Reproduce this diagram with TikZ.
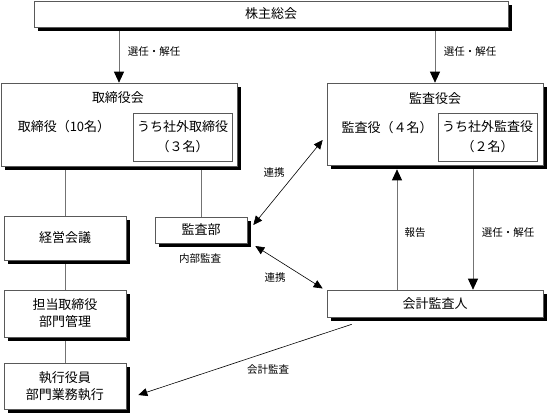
\documentclass[tikz,border=0pt]{standalone}
\usepackage{fontspec}
\setmainfont{Noto Sans CJK JP}
\usetikzlibrary{arrows.meta,shadows,backgrounds}
\begin{document}
\begin{tikzpicture}[x=1pt,y=-1pt,
        box/.style = {draw=black!65, line width=0.6pt, fill=white, inner sep=0pt,
            align=center, font=\fontsize{13}{17}\selectfont,
            drop shadow={shadow xshift=3.5pt, shadow yshift=-3.5pt, opacity=1, fill=black}},
        inbox/.style = {draw=black!65, line width=0.6pt, fill=white, inner sep=0pt,
            align=center, font=\fontsize{13}{20}\selectfont},
        txt/.style = {inner sep=0pt, font=\fontsize{13}{17}\selectfont},
        lbl/.style = {inner sep=0pt, font=\fontsize{10.5}{12}\selectfont},
        link/.style = {draw=black!55, line width=0.7pt},
        down/.style = {link, -{Triangle[width=10pt,length=11pt,color=black]}},
        single/.style = {black, line width=0.6pt, -{Triangle[width=8pt,length=9pt]}},
        both/.style = {black, line width=0.6pt, {Triangle[width=8pt,length=9pt]}-{Triangle[width=8pt,length=9pt]}}
        ]
    \useasboundingbox (0,0) rectangle (547,416);
    \node[box, minimum width=474pt, minimum height=26pt] (gm) at (271,14) {株主総会};
    \node[box, minimum width=236pt, minimum height=83pt] (board) at (119,124.5) {};
    \node[txt] (boardt) at (118,98) {取締役会};
    \node[txt] (boardn) at (64,127) {取締役（10名）};
    \node[inbox, minimum width=99pt, minimum height=48pt] (outdir) at (182.5,137) {うち社外取締役\\（３名）};
    \node[box, minimum width=216pt, minimum height=82pt] (aud) at (435,124) {};
    \node[txt] (audt) at (435,99) {監査役会};
    \node[txt] (audn) at (387,128) {監査役（４名）};
    \node[inbox, minimum width=99pt, minimum height=48pt] (outaud) at (487.5,137) {うち社外監査役\\（２名）};
    \node[box, minimum width=92pt, minimum height=26pt] (iaud) at (201,230) {監査部};
    \node[box, minimum width=216pt, minimum height=27pt] (acc) at (435,303.5) {会計監査人};
    \node[box, minimum width=122pt, minimum height=44pt] (mgmt) at (65,238) {経営会議};
    \node[box, minimum width=122pt, minimum height=47pt] (dirs) at (65,313.5) {担当取締役\\部門管理};
    \node[box, minimum width=122pt, minimum height=46pt] (exec) at (65,386) {執行役員\\部門業務執行};

    \node[lbl] (sel1) at (154,52) {選任・解任};
    \node[lbl] (sel2) at (470,52) {選任・解任};
    \node[lbl] (rep) at (415,233) {報告};
    \node[lbl] (sel3) at (508,233) {選任・解任};
    \node[lbl] (ia) at (200,259) {内部監査};
    \node[lbl] (co1) at (274,173) {連携};
    \node[lbl] (co2) at (275,278) {連携};
    \node[lbl] (ac) at (268,370) {会計監査};

    \begin{scope}[on background layer]
        \draw[down] (gm.south -| board.north) -- (board.north);
        \draw[down] (gm.south -| aud.north) -- (aud.north);
        \draw[link] (board.south -| mgmt.north) -- (mgmt.north);
        \draw[link] (board.south -| iaud.north) -- (iaud.north);
        \draw[link] (mgmt.south) -- (dirs.north);
        \draw[link] (dirs.south) -- (exec.north);
        \draw[down] ([xshift=-38pt]acc.north) -- ([xshift=-38pt, yshift=-4pt]aud.south);
        \draw[down] ([xshift=38pt]aud.south) -- ([xshift=38pt]acc.north);
        \draw[both] ([shift={(6,-5)}]iaud.east) -- ([shift={(-4,16)}]aud.west);
        \draw[both] ([shift={(8,16)}]iaud.east) -- ([shift={(-4,-15)}]acc.west);
        \draw[single] ([shift={(25,7)}]acc.south west) -- ([shift={(12,9)}]exec.east);
    \end{scope}
\end{tikzpicture}
\end{document}
